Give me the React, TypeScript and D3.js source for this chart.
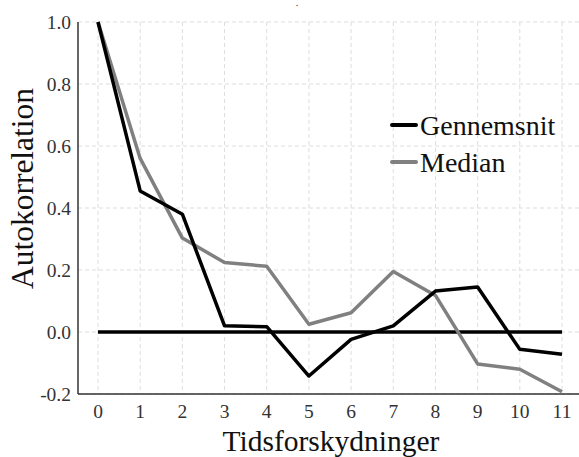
import React from "react";
import * as d3 from "d3";

const lags = [0, 1, 2, 3, 4, 5, 6, 7, 8, 9, 10, 11];
const gennemsnit = [1.0, 0.455, 0.38, 0.02, 0.017, -0.142, -0.024, 0.02, 0.132, 0.145, -0.056, -0.072];
const median = [1.0, 0.56, 0.303, 0.224, 0.212, 0.025, 0.062, 0.195, 0.118, -0.103, -0.12, -0.193];
const zeroLine = lags.map(() => 0);
const yTicks = [-0.2, 0.0, 0.2, 0.4, 0.6, 0.8, 1.0];
const seriesNames = ["Gennemsnit", "Median"];

const W = 579, H = 457;
const left = 78, right = 579, top = 22, bottom = 394;

export default function App() {
  const x = d3.scaleLinear().domain([0, 11]).range([98, 562]);
  const y = d3.scaleLinear().domain([-0.2, 1.0]).range([bottom, top]);
  const line = d3.line<number>().x((_, i) => x(lags[i])).y((d) => y(d));
  const fs = { fontFamily: '"Liberation Serif", "DejaVu Serif", serif' };
  return (
    <svg width={W} height={H} style={{ position: "absolute", left: 0, top: 0, background: "#fff" }}>
      {lags.map((l) => (
        <line key={"vx" + l} x1={x(l)} x2={x(l)} y1={top} y2={bottom} stroke="#ddd" strokeDasharray="4,3" strokeWidth={1} />
      ))}
      {yTicks.map((t) => (
        <line key={"hy" + t} x1={left} x2={right} y1={y(t)} y2={y(t)} stroke="#ddd" strokeDasharray="4,3" strokeWidth={1} />
      ))}
      <line x1={left} x2={left} y1={top} y2={bottom} stroke="#333" strokeWidth={1.5} />
      <line x1={left} x2={right} y1={bottom} y2={bottom} stroke="#333" strokeWidth={1.5} />
      {yTicks.map((t) => (
        <text key={"yt" + t} x={71} y={y(t) + 6.5} textAnchor="end" fontSize={19.5} fill="#333" style={fs}>
          {t.toFixed(1)}
        </text>
      ))}
      {lags.map((l) => (
        <text key={"xt" + l} x={x(l)} y={418} textAnchor="middle" fontSize={19.5} fill="#333" style={fs}>
          {l}
        </text>
      ))}
      <text x={331} y={451} textAnchor="middle" fontSize={29.5} fill="#111" style={fs}>Tidsforskydninger</text>
      <text transform={`translate(33,188.5) rotate(-90)`} textAnchor="middle" fontSize={31.5} fill="#111" style={fs}>
        Autokorrelation
      </text>
      <text x={297} y={6} textAnchor="middle" fontSize={10} fill="#111" style={fs}>.</text>
      <path d={line(zeroLine) || ""} fill="none" stroke="#000" strokeWidth={3.5} />
      <path d={line(median) || ""} fill="none" stroke="#808080" strokeWidth={3.5} strokeLinejoin="round" />
      <path d={line(gennemsnit) || ""} fill="none" stroke="#000" strokeWidth={3.5} strokeLinejoin="round" />
      {seriesNames.map((n, i) => (
        <g key={n} transform={`translate(392,${125 + i * 37})`}>
          <line x1={0} x2={24} y1={0} y2={0} stroke={i === 0 ? "#000" : "#808080"} strokeWidth={4} strokeLinecap="round" />
          <text x={28} y={10} fontSize={28} fill="#111" style={fs}>{n}</text>
        </g>
      ))}
    </svg>
  );
}
